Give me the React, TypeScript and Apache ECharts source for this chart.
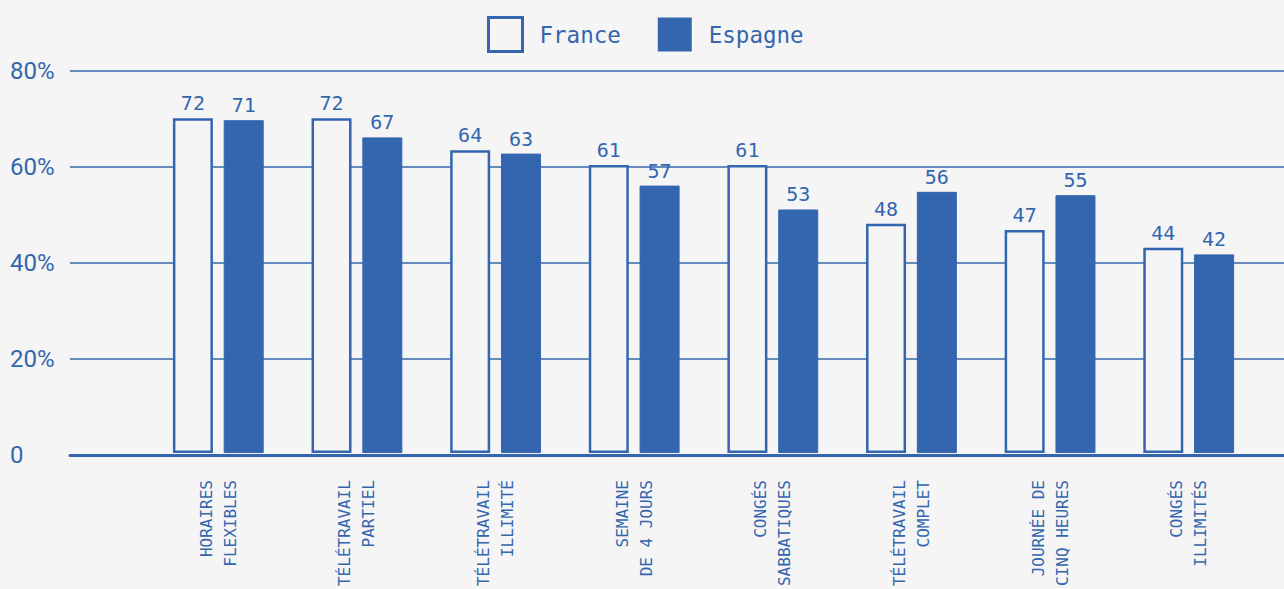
import React, { useEffect, useRef } from "react";
import * as echarts from "echarts";

const categories = [
  "HORAIRES\nFLEXIBLES",
  "TÉLÉTRAVAIL\nPARTIEL",
  "TÉLÉTRAVAIL\nILLIMITÉ",
  "SEMAINE\nDE 4 JOURS",
  "CONGÉS\nSABBATIQUES",
  "TÉLÉTRAVAIL\nCOMPLET",
  "JOURNÉE DE\nCINQ HEURES",
  "CONGÉS\nILLIMITÉS",
];
// bar heights as drawn in the picture (percent)
const franceBars = [70.1, 70.1, 63.4, 60.3, 60.3, 48.0, 46.7, 43.0];
const espagneBars = [69.7, 66.1, 62.7, 56.0, 51.0, 54.7, 54.0, 41.6];
// numbers printed above the bars
const franceLabels = [72, 72, 64, 61, 61, 48, 47, 44];
const espagneLabels = [71, 67, 63, 57, 53, 56, 55, 42];
const yTicks = [0, 20, 40, 60, 80];

const BLUE = "#3366ae";
const BG = "#f5f5f5";
const MONO = "'DejaVu Sans Mono', monospace";

export default function App() {
  const ref = useRef<HTMLDivElement>(null);
  useEffect(() => {
    if (!ref.current) return;
    const chart = echarts.init(ref.current, null, { renderer: "svg" });
    chart.setOption({
      animation: false,
      backgroundColor: BG,
      legend: {
        left: 482,
        top: 11,
        itemWidth: 34,
        itemHeight: 34,
        itemGap: 37,
        textStyle: { color: BLUE, fontFamily: MONO, fontSize: 22.5, padding: [0, 0, 0, 12] },
        data: [
          { name: "France", icon: "rect", itemStyle: { color: BG, borderColor: BLUE, borderWidth: 3 } },
          { name: "Espagne", icon: "rect", itemStyle: { color: BLUE, borderWidth: 0 } },
        ],
      },
      grid: [
        { left: 70, right: 0, top: 71, bottom: 134 },
        { left: 149, right: 26, top: 71, bottom: 134 },
      ],
      xAxis: [
        {
          gridIndex: 0,
          type: "value",
          min: 0,
          max: 1,
          z: 10,
          axisLine: { show: true, lineStyle: { color: BLUE, width: 3 } },
          axisTick: { show: false },
          axisLabel: { show: false },
          splitLine: { show: false },
        },
        {
          gridIndex: 1,
          type: "category",
          data: categories,
          axisLine: { show: false },
          axisTick: { show: false },
          axisLabel: {
            interval: 0,
            rotate: 90,
            margin: 27,
            color: BLUE,
            fontFamily: MONO,
            fontSize: 16,
            lineHeight: 24,
          },
        },
      ],
      yAxis: [
        {
          gridIndex: 0,
          type: "value",
          min: yTicks[0],
          max: yTicks[yTicks.length - 1],
          interval: 20,
          axisLine: { show: false },
          axisTick: { show: false },
          splitLine: { show: true, lineStyle: { color: [BLUE], width: 1.5 } },
          axisLabel: {
            align: "left",
            margin: 60,
            color: BLUE,
            fontFamily: "Roboto",
            fontSize: 24,
            formatter: (v: number) => (v === 0 ? "0" : v + "%"),
          },
        },
        {
          gridIndex: 1,
          type: "value",
          min: 0,
          max: 80,
          interval: 20,
          show: false,
          splitLine: { show: false },
        },
      ],
      series: [
        {
          name: "France",
          type: "bar",
          xAxisIndex: 1,
          yAxisIndex: 1,
          data: franceBars,
          barWidth: 40,
          barGap: "27%",
          itemStyle: { color: BG, borderColor: BLUE, borderWidth: 2.5 },
          label: {
            show: true,
            position: "top",
            distance: 5,
            color: BLUE,
            fontFamily: MONO,
            fontSize: 20,
            formatter: (p: any) => String(franceLabels[p.dataIndex]),
          },
        },
        {
          name: "Espagne",
          type: "bar",
          xAxisIndex: 1,
          yAxisIndex: 1,
          data: espagneBars,
          barWidth: 40,
          barGap: "27%",
          itemStyle: { color: BLUE, borderColor: BLUE, borderWidth: 1 },
          label: {
            show: true,
            position: "top",
            distance: 5,
            color: BLUE,
            fontFamily: MONO,
            fontSize: 20,
            formatter: (p: any) => String(espagneLabels[p.dataIndex]),
          },
        },
      ],
    });
    return () => chart.dispose();
  }, []);
  return <div ref={ref} style={{ width: 1284, height: 589, position: "fixed", left: 0, top: 0 }} />;
}
